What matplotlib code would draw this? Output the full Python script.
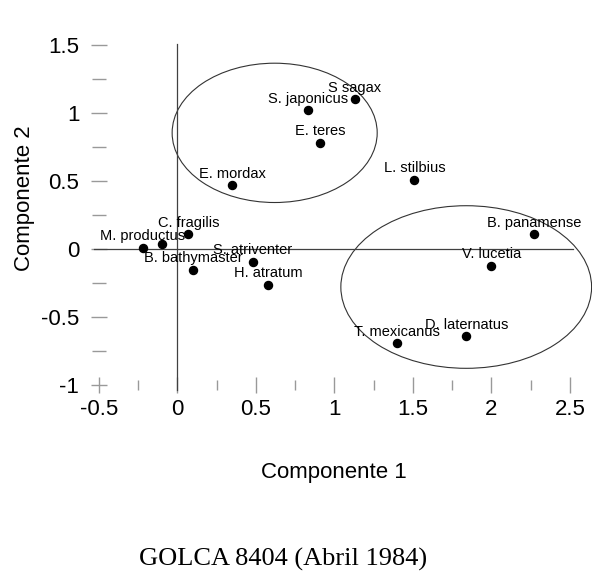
import matplotlib
matplotlib.use('Agg')
import matplotlib.pyplot as plt
from matplotlib.patches import Ellipse
from matplotlib.ticker import MultipleLocator

plt.rcParams['font.family'] = ['Liberation Sans', 'DejaVu Sans']
plt.rcParams['axes.unicode_minus'] = False

# species scores on the first two components
species = ['M. productus', '', 'C. fragilis', 'B. bathymaster', 'S. atriventer',
           'H. atratum', 'S sagax', 'S. japonicus', 'E. teres', 'E. mordax',
           'L. stilbius', 'B. panamense', 'V. lucetia', 'T. mexicanus', 'D. laternatus']
comp1 = [-0.22, -0.10, 0.07, 0.10, 0.48, 0.58, 1.13, 0.83, 0.91, 0.35,
         1.51, 2.27, 2.00, 1.40, 1.84]
comp2 = [0.01, 0.04, 0.11, -0.15, -0.09, -0.26, 1.10, 1.02, 0.78, 0.47,
         0.51, 0.11, -0.12, -0.69, -0.64]

# groups drawn as ellipses: centre x, centre y, width, height
group_cx = [0.62, 1.84]
group_cy = [0.855, -0.277]
group_w = [1.306, 1.597]
group_h = [1.023, 1.194]

fig = plt.figure(figsize=(5.92, 5.73), dpi=100)
ax = fig.add_axes([0.1404, 0.3035, 0.8487, 0.6417])
ax.set_xlim(-0.6, 2.6)
ax.set_ylim(-1.1, 1.6)

# reference lines through the origin
ax.plot([0, 0], [-1.03, 1.51], color='#404040', lw=0.9)
ax.plot([-0.53, 2.52], [0, 0], color='#404040', lw=0.9)

for cx, cy, w, h in zip(group_cx, group_cy, group_w, group_h):
    ax.add_patch(Ellipse((cx, cy), w, h, fill=False, edgecolor='#333333',
                         lw=0.8, clip_on=False))

ax.plot(comp1, comp2, 'o', color='black', ms=5.8, ls='none')
for name, x, y in zip(species, comp1, comp2):
    ax.annotate(name, (x, y), xytext=(0, 5.5), textcoords='offset points',
                ha='center', va='baseline', fontsize=10.5)

for s in ax.spines.values():
    s.set_visible(False)
ax.spines['left'].set_position(('data', -0.5))
ax.spines['bottom'].set_position(('data', -1))

ax.xaxis.set_minor_locator(MultipleLocator(0.25))
ax.yaxis.set_minor_locator(MultipleLocator(0.25))
ax.set_xticks([-0.5, 0, 0.5, 1, 1.5, 2, 2.5])
ax.set_xticklabels(['-0.5', '0', '0.5', '1', '1.5', '2', '2.5'])
ax.set_yticks([-1, -0.5, 0, 0.5, 1, 1.5])
ax.set_yticklabels(['-1', '-0.5', '0', '0.5', '1', '1.5'])

ax.tick_params(axis='x', which='major', direction='inout', length=12, width=1,
               color='#999999', labelsize=16, pad=4)
ax.tick_params(axis='x', which='minor', direction='inout', length=7, width=1,
               color='#999999')
ax.tick_params(axis='y', which='major', direction='inout', length=12, width=1,
               color='#999999', labelsize=16, pad=8)
ax.tick_params(axis='y', which='minor', direction='inout', length=10, width=1,
               color='#999999')

ax.set_xlabel('Componente 1', fontsize=16)
ax.xaxis.set_label_coords(0.5, -0.172)
ax.set_ylabel('Componente 2', fontsize=16)
ax.yaxis.set_label_coords(-0.095, 0.547)

fig.text(0.478, 0.024, 'GOLCA 8404 (Abril 1984)', ha='center', va='center',
         fontsize=19, family=['Liberation Serif', 'DejaVu Serif'])

fig.savefig('out.png', dpi=100)
